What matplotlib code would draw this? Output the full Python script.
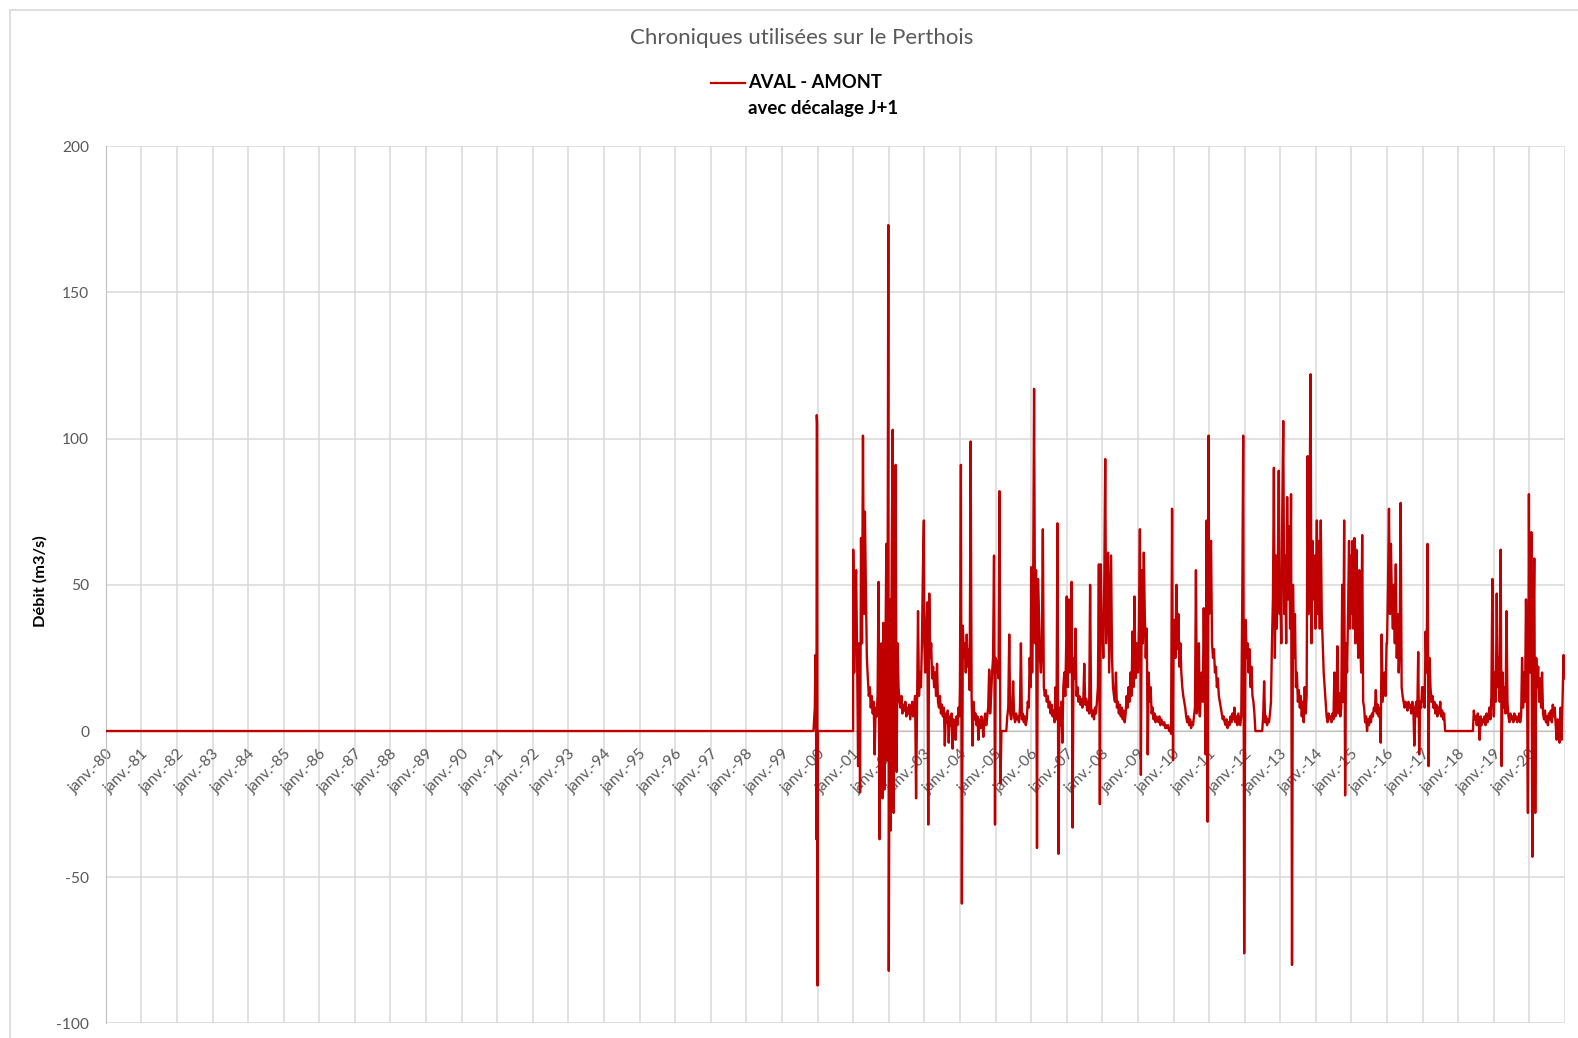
import numpy as np
import pandas as pd
import matplotlib
matplotlib.use("Agg")
import matplotlib.pyplot as plt
from matplotlib.lines import Line2D
from matplotlib.patches import Rectangle

plt.rcParams['font.family'] = ['Lato', 'DejaVu Sans']
plt.rcParams['axes.unicode_minus'] = False

ROUGE = '#C00000'
GRIS = '#595959'

# avant 2001 : pas d'ecart sauf l'episode de fin 1999
dates_avant = ['1980-01-01', '1999-11-20', '1999-12-04', '1999-12-10', '1999-12-16',
               '1999-12-20', '1999-12-24', '1999-12-28', '2000-01-01', '2000-01-05',
               '2000-12-31']
debit_avant = [0, 0, 8, 26, 10, -37, 108, 105, -87, 0, 0]

# ecarts AVAL - AMONT (m3/s), un point tous les 10 jours a partir du 1er janvier
debit_2001 = [62, 20, 48, 55, 25, -12, 30, -21, 66, 30, 101, 40, 75, 48, 25, 18, 12, 15, 8,
              12, 6, 10, -8, 8, 5, 12, 51, -37, 20, 30, -23, 37, -20, 25, 64, -10, 173]
debit_2002 = [-82, 45, -34, 60, 103, -28, 40, 91, -14, 30, 15, 10, 8, 12, 6, 9, 7, 10, 5,
              8, 6, 9, 4, 7, 10, 5, 8, 12, -23, 10, 41, 12, 20, 15, 30, 55, 72]
debit_2003 = [30, 20, 35, 44, -32, 47, 25, 30, 18, 22, 15, 20, 12, 23, 10, 8, 12, 6, 9,
              5, 8, -5, 6, 3, 7, -4, 5, 2, 6, -6, 4, 3, -3, 5, 2, 8, 5]
debit_2004 = [15, 91, -59, 36, 25, 30, 20, 33, 22, 28, 14, 99, 12, -5, 10, 4, 6, 2, 5,
              -3, 4, 1, 5, 3, -2, 4, 6, 2, 5, 8, 21, 6, 12, 20, 25, 60, -32]
debit_2005 = [25, 20, 24, 18, 82, -18, 0, 0, 0, 0, 0, 0, 5, 8, 33, 6, 4, 7, 17,
              5, 3, 6, 4, 5, 3, 8, 30, 4, 6, 3, 5, 2, 4, 10, 8, 25, 15]
debit_2006 = [56, 20, 45, 117, 30, 55, -40, 52, 40, 25, 20, 30, 69, 15, 12, 14, 10, 12, 8,
              10, 6, 9, 5, 7, 3, 15, 4, 71, -42, 8, 2, 10, -4, 15, 20, 12, 30]
debit_2007 = [46, 15, 45, 20, 30, 51, -33, 25, 18, 35, 12, 15, 10, 12, 9, 11, 8, 10, 23,
              9, 11, 7, 10, 6, 50, 8, 5, 7, 4, 8, 6, 10, 15, 57, -25, 57, 30]
debit_2008 = [40, 25, 50, 93, 30, 45, 61, 20, 40, 60, 25, 15, 12, 10, 20, 8, 10, 6, 9,
              5, 8, 4, 7, 3, 6, 12, 8, 15, 10, 20, 12, 34, 15, 46, 18, 30, 20]
debit_2009 = [20, 35, 69, -15, 55, 30, 61, 40, 25, 35, -8, 20, 10, 15, 6, 8, 4, 6, 3,
              5, 4, 3, 5, 2, 4, 3, 2, 3, 1, 2, 1, 2, 0, 1, -1, 76, -10]
debit_2010 = [30, 38, 25, 50, 28, 40, 22, 30, 20, 15, 12, 10, 8, 5, 3, 5, 2, 4, 1,
              3, 2, 5, 8, 55, 6, 10, 30, 5, 12, 20, 10, 42, 15, -8, 72, -31, 101]
debit_2011 = [40, 58, 65, 30, 25, 28, 20, 22, 15, 18, 12, 10, 8, 6, 4, 5, 3, 2, 4,
              1, 3, 2, 5, 3, 6, 4, 8, 3, 5, 2, 6, 4, 2, 5, 43, 101, -76]
debit_2012 = [-29, 38, 25, 30, 20, 28, 15, 22, 12, 10, 6, 0, 0, 0, 0, 0, 0, 0, 0,
              5, 17, 3, 5, 2, 4, 3, 6, 10, 30, 45, 90, 25, 60, 35, 55, 89, 40]
debit_2013 = [50, 30, 75, 106, 40, 60, 30, 80, 45, 70, 35, 81, -80, 50, 25, 40, 15, 20, 10,
              14, 8, 12, 5, 10, 3, 15, 6, 12, 94, 40, 72, 122, 30, 65, 45, 60, 35]
debit_2014 = [50, 72, 40, 65, 35, 72, 40, 30, 20, 15, 10, 5, 3, 6, 4, 5, 3, 6, 4,
              20, 5, 8, 29, 6, 13, 5, 8, 50, 10, 72, -22, 30, 20, 40, 65, 35, 60]
debit_2015 = [40, 65, 35, 66, 30, 62, 40, 25, 55, 30, 20, 67, 10, 8, 3, 5, 0, 4, 2,
              5, 3, 6, 5, 8, 7, 14, 6, 9, 5, 8, -4, 33, 10, 15, 20, 12, 30]
debit_2016 = [30, 50, 76, 40, 64, 45, 35, 50, 30, 57, 25, 40, 20, 30, 78, 15, 12, 10, 8,
              10, 9, 7, 10, 8, 9, 6, 10, 8, -5, 7, 10, 5, 27, -8, 10, 8, 15]
debit_2017 = [10, 15, 8, 34, 20, 64, -12, 25, 15, 10, 12, 8, 10, 6, 9, 5, 8, 6, 10,
              5, 7, 4, 6, 0, 0, 0, 0, 0, 0, 0, 0, 0, 0, 0, 0, 0, 0]
debit_2018 = [0, 0, 0, 0, 0, 0, 0, 0, 0, 0, 0, 0, 0, 0, 0, 0, 7, 4, 5,
              2, 6, 3, -3, 5, 2, 4, 3, 5, 2, 6, 3, 5, 8, 4, 12, 52, 10]
debit_2019 = [5, 20, 10, 47, 15, 25, 10, 62, -12, 20, 8, 15, 6, 41, 10, 5, 3, 6, 4,
              5, 3, 6, 4, 5, 3, 4, 6, 3, 5, 25, 8, 20, 10, 45, 20, -28, 81]
debit_2020 = [40, 20, 68, -43, 30, 59, -28, 25, 15, 22, 10, 18, 8, 20, 6, 4, 7, 3, 5,
              2, 6, 4, 7, 3, 9, 5, 8, 2, -3, 4, 1, -4, 8, -3, 10, 26, 18]

annees = list(range(2001, 2021))
debits = [debit_2001, debit_2002, debit_2003, debit_2004, debit_2005, debit_2006,
          debit_2007, debit_2008, debit_2009, debit_2010, debit_2011, debit_2012,
          debit_2013, debit_2014, debit_2015, debit_2016, debit_2017, debit_2018,
          debit_2019, debit_2020]

yticks = [-100, -50, 0, 50, 100, 150, 200]

# serie complete
t = [pd.to_datetime(dates_avant)]
q = [np.array(debit_avant, dtype=float)]
for an, v in zip(annees, debits):
    t.append(pd.date_range(f"{an}-01-01", periods=len(v), freq="10D"))
    q.append(np.array(v, dtype=float))
t = np.concatenate([d.values for d in t])
q = np.concatenate(q)

fig = plt.figure(figsize=(15.78, 10.38), dpi=100)
ax = fig.add_axes([0.0670, 0.01397, 0.9248, 0.8453])

ax.plot(t, q, color=ROUGE, lw=1.7, zorder=3)

ax.set_xlim(pd.Timestamp('1980-01-01'), pd.Timestamp('2021-01-01'))
ax.set_ylim(-100, 200)
ax.set_yticks(yticks)
ans = pd.date_range('1980-01-01', '2020-01-01', freq='YS')
ax.set_xticks(ans)
ax.set_xticklabels([f"janv.-{d.year % 100:02d}" for d in ans])
ax.set_axisbelow(True)
ax.grid(True, color='#d9d9d9', lw=1.1)
ax.axvline(pd.Timestamp('2021-01-01'), color='#d9d9d9', lw=1.1, zorder=0)

for s in ['top', 'right']:
    ax.spines[s].set_visible(False)
ax.spines['left'].set_color('#bfbfbf')
ax.spines['bottom'].set_color('#bfbfbf')
ax.spines['bottom'].set_position(('data', 0))

ax.tick_params(axis='x', length=0, pad=11, labelsize=11.2, labelcolor=GRIS)
ax.tick_params(axis='y', length=0, pad=12, labelsize=11.2, labelcolor=GRIS)
for lbl in ax.get_xticklabels():
    lbl.set_rotation(45)
    lbl.set_ha('right')
    lbl.set_va('top')
    lbl.set_rotation_mode('anchor')

# titre, legende, axe des y
fig.text(802 / 1578, 1 - 38 / 1038, "Chroniques utilisées sur le Perthois",
         ha='center', va='center', fontsize=16, color=GRIS)
fig.add_artist(Line2D([711 / 1578, 745 / 1578], [1 - 82.5 / 1038] * 2,
                      color=ROUGE, lw=1.6))
fig.text(748 / 1578, 1 - 82.5 / 1038, "AVAL - AMONT", ha='left', va='center',
         fontsize=13.2, weight='bold', color='black')
fig.text(748 / 1578, 1 - 108 / 1038, "avec décalage J+1", ha='left', va='center',
         fontsize=13.4, weight='bold', color='black')
fig.text(40 / 1578, 1 - 581 / 1038, "Débit (m3/s)", rotation=90, ha='center',
         va='center', fontsize=11.8, weight='bold', color='black')

# cadre du graphique
fig.add_artist(Rectangle((10 / 1578, -0.1), 1.2, 1.1 - 10 / 1038,
                         transform=fig.transFigure, fill=False,
                         edgecolor='#d9d9d9', lw=1.2))

fig.savefig('out.png', dpi=100)
